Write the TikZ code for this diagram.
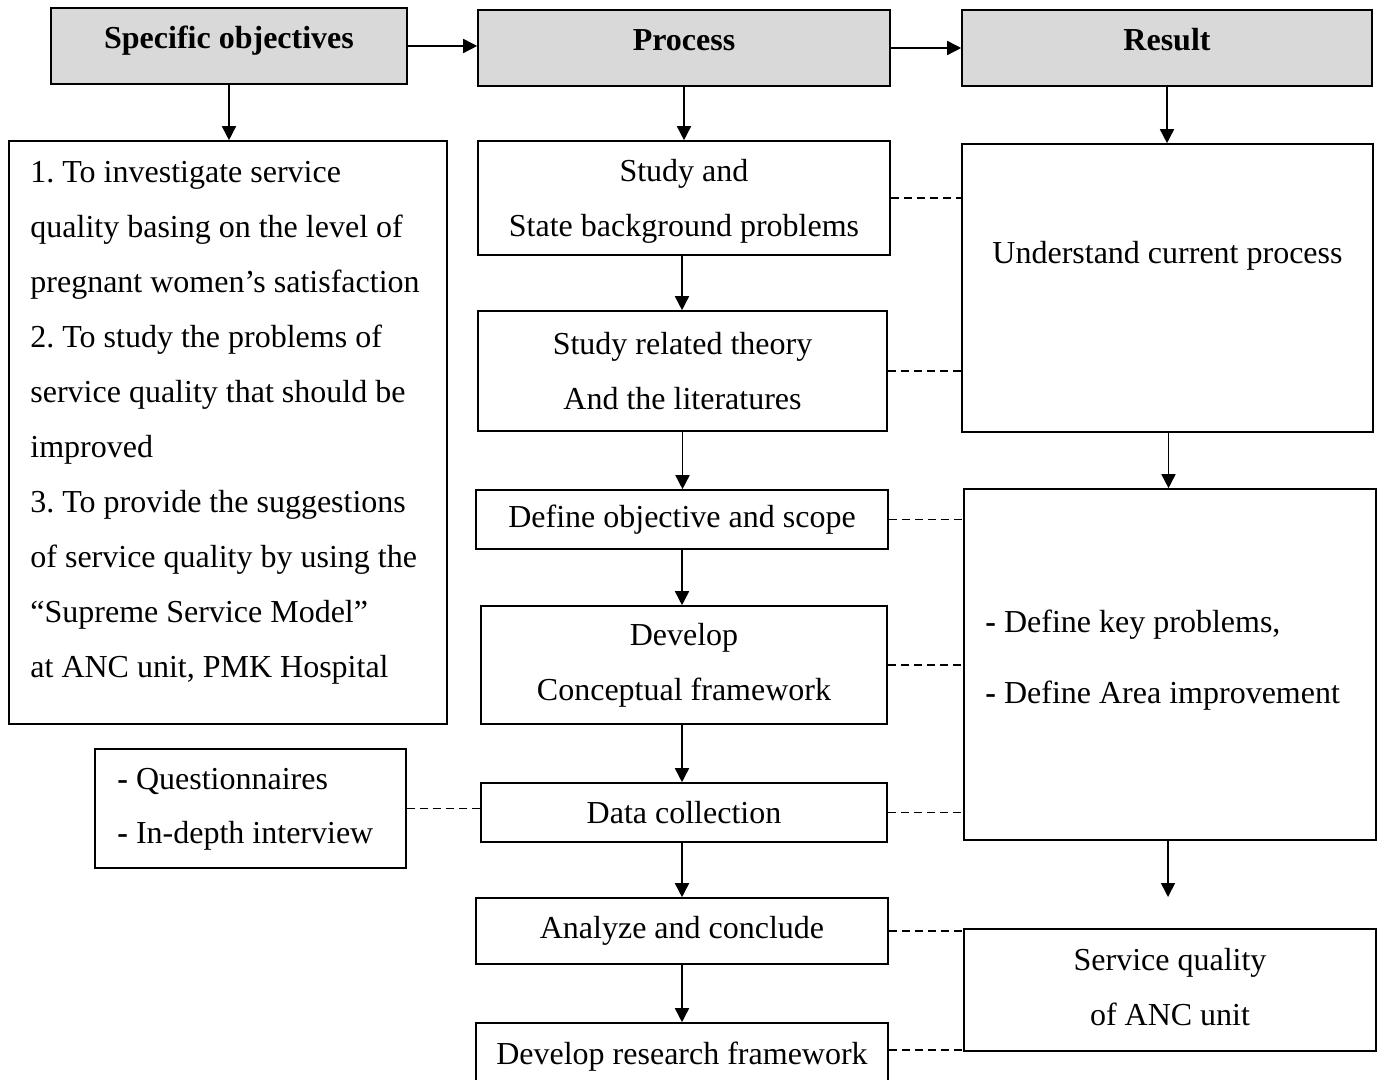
\documentclass[tikz,border=0pt]{standalone}
\usepackage{fontspec}
\setmainfont{Liberation Serif}
\usetikzlibrary{arrows.meta}
\definecolor{headgray}{HTML}{D9D9D9}
\frenchspacing
\begin{document}
\begin{tikzpicture}[x=0.5pt,y=-0.5pt,
  txt/.style={font=\fontsize{16pt}{27.5pt}\selectfont, align=center, inner sep=0pt},
  box/.style={txt, draw, line width=0.8pt},
  headbox/.style={box, fill=headgray, font=\fontsize{16pt}{27.5pt}\selectfont\bfseries,
                  text height=10.5pt, text depth=8pt},
  arr/.style={line width=0.8pt, -{Triangle[length=7pt,width=7pt]}},
  dashlink/.style={line width=0.75pt, dash pattern=on 4pt off 2.5pt}]
\clip (0,0) rectangle (1381,1080);
\fill[white] (0,0) rectangle (1381,1080);

% column headers
\node[headbox, minimum width=178pt, minimum height=38pt] (so)   at (229,46)  {Specific objectives};
\node[headbox, minimum width=206pt, minimum height=38pt] (proc) at (684,48)  {Process};
\node[headbox, minimum width=205pt, minimum height=38pt] (res)  at (1167,48) {Result};

% left column
\node[box, minimum width=219pt, minimum height=291.5pt] (obj) at (228,432.5) {};
\node[txt, anchor=west, align=left] (objtxt) at (30,422.5) {%
1. To investigate service\\
quality basing on the level of\\
pregnant women’s satisfaction\\
2. To study the problems of\\
service quality that should be\\
improved\\
3. To provide the suggestions\\
of service quality by using the\\
“Supreme Service Model”\\
at ANC unit, PMK Hospital};

\node[box, minimum width=155.5pt, minimum height=59.5pt] (quest) at (250.5,808.5) {};
\node[txt, anchor=west, align=left, font=\fontsize{16pt}{27pt}\selectfont] (questtxt) at (117,809.5) {%
\textbf{-} Questionnaires\\
\textbf{-} In-depth interview};

% process column
\node[box, minimum width=206pt,   minimum height=57pt]   (p1) at (684,198)    {};
\node[txt] (p1txt) at (684,201) {Study and\\State background problems};
\node[box, minimum width=204.5pt, minimum height=60pt]   (p2) at (682.5,371)  {Study related theory\\And the literatures};
\node[box, minimum width=206pt,   minimum height=29.5pt] (p3) at (682,519.5)  {Define objective and scope};
\node[box, minimum width=203pt,   minimum height=59pt]   (p4) at (684,665)    {Develop\\Conceptual framework};
\node[box, minimum width=203pt,   minimum height=29.5pt] (p5) at (684,812.5)  {Data collection};
\node[box, minimum width=206pt,   minimum height=33pt]   (p6) at (682,931)    {Analyze and conclude};
\node[box, minimum width=206pt,   minimum height=38.5pt] (p7) at (682,1061.5) {};
\node[txt] (p7txt) at (682,1057) {Develop research framework};

% result column
\node[box, minimum width=205.5pt, minimum height=144pt]  (r1) at (1167.5,288) {};
\node[txt] (r1txt) at (1167.5,256) {Understand current process};
\node[box, minimum width=206pt, minimum height=175.5pt]  (r2) at (1170,664.5) {};
\node[txt, anchor=west, align=left, font=\fontsize{16pt}{35.5pt}\selectfont] (r2txt) at (985,660.5) {%
\textbf{-} Define key problems,\\
\textbf{-} Define Area improvement};
\node[box, minimum width=206pt, minimum height=61pt]     (r3) at (1170,990)   {};
\node[txt] (r3txt) at (1170,987) {Service quality\\of ANC unit};
\coordinate (r2end) at (1168,897);

% header arrows
\draw[arr] (so.east) -- (so.east -| proc.west);
\draw[arr] (proc.east) -- (proc.east -| res.west);
\draw[arr] (so.south) -- (so.south |- obj.north);
\draw[arr] (proc.south) -- (proc.south |- p1.north);
\draw[arr] (res.south) -- (res.south |- r1.north);

% process flow
\draw[arr] ([xshift=-1pt]p1.south) -- ([xshift=-1pt]p1.south |- p2.north);
\draw[arr] (p2.south) -- (p2.south |- p3.north);
\draw[arr] (p3.south) -- (p3.south |- p4.north);
\draw[arr] ([xshift=-1pt]p4.south) -- ([xshift=-1pt]p4.south |- p5.north);
\draw[arr] ([xshift=-1pt]p5.south) -- ([xshift=-1pt]p5.south |- p6.north);
\draw[arr] (p6.south) -- (p6.south |- p7.north);

% result flow
\draw[arr] ([xshift=0.5pt]r1.south) -- ([xshift=0.5pt]r1.south |- r2.north);
\draw[arr] (r2.south -| r2end) -- (r2end);

% dashed links
\draw[dashlink] (p1.east) -- (p1.east -| r1.west);
\draw[dashlink] (p2.east) -- (p2.east -| r1.west);
\draw[dashlink] (p3.east) -- (p3.east -| r2.west);
\draw[dashlink] (p4.east) -- (p4.east -| r2.west);
\draw[dashlink] (p5.east) -- (p5.east -| r2.west);
\draw[dashlink] ([yshift=2pt]p5.west) -- ([yshift=2pt]p5.west -| quest.east);
\draw[dashlink] (p6.east) -- (p6.east -| r3.west);
\draw[dashlink] ([yshift=-14pt]p7.north east) -- ([yshift=-14pt]p7.north east -| r3.west);
\end{tikzpicture}
\end{document}
